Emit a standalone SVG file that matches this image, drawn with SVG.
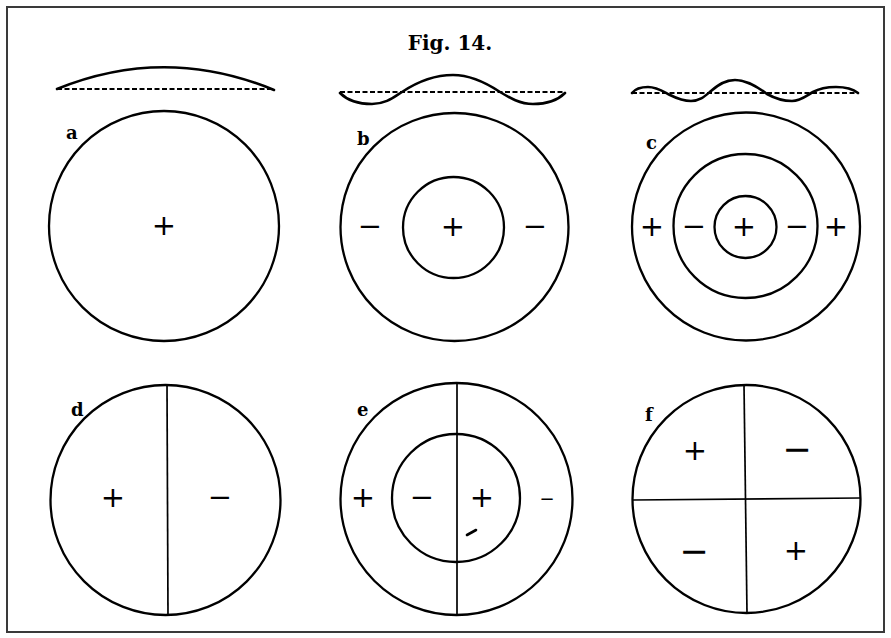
<svg xmlns="http://www.w3.org/2000/svg" width="891" height="638" viewBox="0 0 891 638">
  <style>
    .frame { fill: none; stroke: #3a3a3a; stroke-width: 2; }
    .circ { fill: none; stroke: #000; stroke-width: 2.3; }
    .line { fill: none; stroke: #000; stroke-width: 1.7; }
    .wave { fill: none; stroke: #000; stroke-width: 2.6; stroke-linecap: round; }
    .dash { fill: none; stroke: #000; stroke-width: 2; stroke-dasharray: 5 2.5; }
    .sign { font-family: "DejaVu Sans", sans-serif; font-size: 29px; text-anchor: middle; fill: #000; }
    .lbl { font-family: "DejaVu Serif", "Liberation Serif", serif; font-weight: bold; font-size: 18px; fill: #000; }
    .title { font-family: "DejaVu Serif", "Liberation Serif", serif; font-weight: bold; font-size: 20px; fill: #000; text-anchor: middle; }
  </style>
  <rect x="0" y="0" width="891" height="638" fill="#fff"/>
  <rect class="frame" x="7" y="7" width="877" height="625"/>

  <text class="title" x="450" y="50">Fig. 14.</text>

  <g id="profiles">
    <line class="dash" x1="57" y1="89" x2="274" y2="89"/>
    <path class="wave" d="M57,89 Q165,45 274,90"/>
    <line class="dash" x1="340" y1="92" x2="565" y2="92"/>
    <path class="wave" d="M340,93 C348,101 360,104 372,104 C386,104 394,97 402,92 C420,80 437,75 453,75 C470,75 485,82 500,92 C510,98 520,104 533,104 C548,104 558,100 565,93"/>
    <line class="dash" x1="632" y1="93" x2="858" y2="93"/>
    <path class="wave" d="M632,93 C636,88 642,87 648,87 C657,87 664,92 670,95 C678,99 684,101 691,101 C700,101 705,96 711,91 C718,85 725,80 735,80 C745,80 758,87 767,94 C776,99 784,101 792,101 C800,101 806,96 813,92 C820,88 828,87 836,87 C845,87 853,89 858,93"/>
  </g>

  <g id="node-a">
    <circle class="circ" cx="164" cy="226" r="115"/>
    <text class="lbl" x="66" y="139">a</text>
    <text class="sign" x="164" y="235">+</text>
  </g>

  <g id="node-b">
    <circle class="circ" cx="454.5" cy="227" r="114"/>
    <circle class="circ" cx="453.5" cy="227.5" r="50.5"/>
    <text class="lbl" x="357" y="145">b</text>
    <text class="sign" x="370" y="236">−</text>
    <text class="sign" x="453" y="236">+</text>
    <text class="sign" x="535" y="236">−</text>
  </g>

  <g id="node-c">
    <circle class="circ" cx="746" cy="226.5" r="114"/>
    <circle class="circ" cx="745.5" cy="226" r="72"/>
    <circle class="circ" cx="745.5" cy="227" r="31"/>
    <text class="lbl" x="646" y="149">c</text>
    <text class="sign" x="652" y="236">+</text>
    <text class="sign" x="694" y="236">−</text>
    <text class="sign" x="744" y="236">+</text>
    <text class="sign" x="797" y="236">−</text>
    <text class="sign" x="836" y="236">+</text>
  </g>

  <g id="node-d">
    <circle class="circ" cx="165.5" cy="500" r="115"/>
    <line class="line" x1="167" y1="385" x2="168" y2="615"/>
    <text class="lbl" x="71" y="416">d</text>
    <text class="sign" x="113" y="507">+</text>
    <text class="sign" x="220" y="507">−</text>
  </g>

  <g id="node-e">
    <circle class="circ" cx="456.5" cy="499" r="116"/>
    <circle class="circ" cx="456" cy="498" r="64"/>
    <line class="line" x1="457" y1="383" x2="457" y2="615"/>
    <text class="lbl" x="357" y="416">e</text>
    <text class="sign" x="363" y="507">+</text>
    <text class="sign" x="422" y="507">−</text>
    <text class="sign" x="482" y="507">+</text>
    <text class="sign" x="547" y="505" style="font-size:18px">−</text>
    <path class="wave" d="M467,535 L476,530"/>
  </g>

  <g id="node-f">
    <circle class="circ" cx="746.5" cy="499" r="114"/>
    <line class="line" x1="744" y1="385" x2="747" y2="613"/>
    <line class="line" x1="633" y1="500" x2="860" y2="498"/>
    <text class="lbl" x="645" y="421">f</text>
    <text class="sign" x="695" y="460">+</text>
    <text class="sign" x="797" y="461" style="font-size:35px">−</text>
    <text class="sign" x="694" y="563" style="font-size:35px">−</text>
    <text class="sign" x="796" y="560">+</text>
  </g>
</svg>
